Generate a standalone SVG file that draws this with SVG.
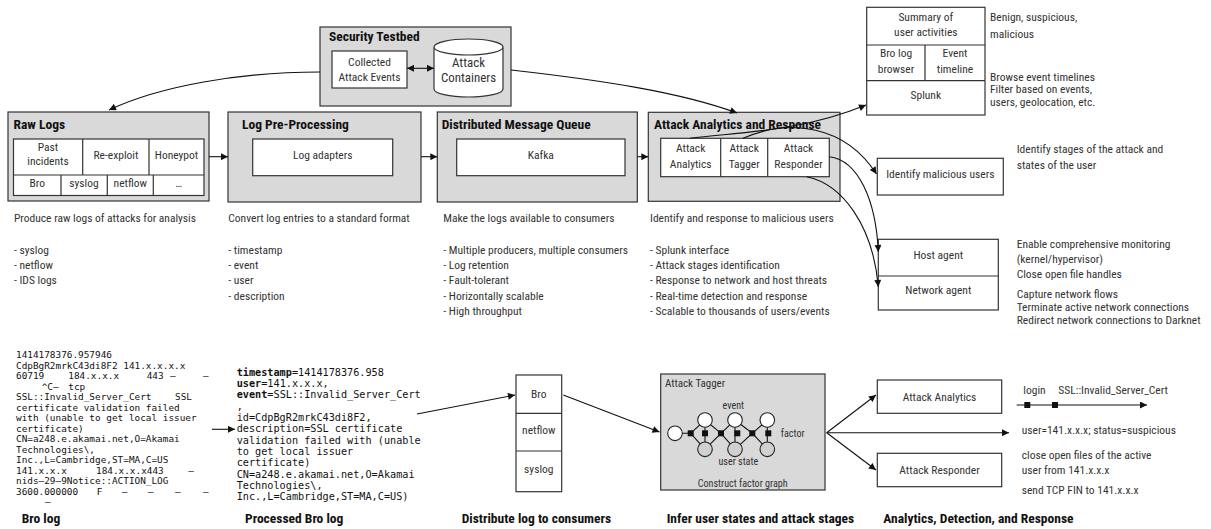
<svg xmlns="http://www.w3.org/2000/svg" width="1211" height="529" viewBox="0 0 1211 529">
  <defs>
    <marker id="arrow" viewBox="0 0 10 10" refX="10" refY="5" markerWidth="9" markerHeight="7" markerUnits="userSpaceOnUse" orient="auto-start-reverse">
      <path d="M0,0 L10,5 L0,10 z" fill="#111"/>
    </marker>
    <style>
      .t { font-family: "Liberation Sans Narrow", "Roboto Condensed", "DejaVu Sans Condensed", "Liberation Sans", sans-serif; font-size: 11.5px; fill: #333; }
      .c { text-anchor: middle; }
      .h { font-family: "Liberation Sans Narrow", "Roboto Condensed", "DejaVu Sans Condensed", "Liberation Sans", sans-serif; font-size: 13.5px; font-weight: bold; fill: #111; }
      .s { font-size: 10.1px; }
      .m { font-family: "DejaVu Sans Mono", "Liberation Mono", monospace; font-size: 9.4px; fill: #111; }
      .m2 { font-family: "DejaVu Sans Mono", "Liberation Mono", monospace; font-size: 10.2px; fill: #111; }
      .m2 tspan.k { font-weight: bold; }
      .panel { fill: #d9d9d9; stroke: #333; stroke-width: 1.2; }
      .box { fill: #fff; stroke: #333; stroke-width: 1.2; }
      .ln { fill: none; stroke: #333; stroke-width: 1.2; }
      .wire { fill: none; stroke: #111; stroke-width: 1.1; }
      .arr { fill: none; stroke: #111; stroke-width: 1.1; marker-end: url(#arrow); }
      .fac { fill: #111; }
      .var { fill: #fff; stroke: #222; stroke-width: 1.1; }
      .obs { fill: #d0d0d0; stroke: #222; stroke-width: 1.1; }
    </style>
  </defs>

  <!-- Security testbed -->
  <g id="security-testbed">
    <rect class="panel" x="320" y="27" width="191" height="79"/>
    <text class="h" x="329" y="41">Security Testbed</text>
    <rect class="box" x="332" y="51" width="75" height="37"/>
    <text class="t c" x="369.5" y="66">Collected</text>
    <text class="t c" x="369.5" y="81">Attack Events</text>
    <path class="box" d="M434,47 L434,89 A34.5,8 0 0 0 503,89 L503,47 A34.5,8 0 0 0 434,47 A34.5,8 0 0 0 503,47"/>
    <text class="t c" x="468.5" y="66.5" style="font-size:12.9px">Attack</text>
    <text class="t c" x="468.5" y="81.5" style="font-size:12.9px">Containers</text>
  </g>

  <!-- Raw logs -->
  <g id="raw-logs">
    <rect class="panel" x="8" y="112" width="201" height="89"/>
    <text class="h" x="13.5" y="129">Raw Logs</text>
    <rect class="box" x="13.5" y="139" width="190.5" height="56.5"/>
    <path class="ln" d="M13.5,175 H204 M82.7,139 V175 M149,139 V175 M61,175 V195.5 M107.3,175 V195.5 M153.3,175 V195.5"/>
    <text class="t c" x="48" y="151">Past</text>
    <text class="t c" x="48" y="164.5">incidents</text>
    <text class="t c" x="115.9" y="158.5">Re-exploit</text>
    <text class="t c" x="176.5" y="158.5">Honeypot</text>
    <text class="t c" x="37.2" y="187.4">Bro</text>
    <text class="t c" x="84" y="187.4">syslog</text>
    <text class="t c" x="130.3" y="187.4">netflow</text>
    <text class="t c" x="178.7" y="187.4">…</text>
  </g>

  <!-- Log pre-processing -->
  <g id="log-preprocessing">
    <rect class="panel" x="228" y="112" width="193" height="90"/>
    <text class="h" x="242" y="128.5">Log Pre-Processing</text>
    <rect class="box" x="252.7" y="139" width="140" height="36.7"/>
    <text class="t c" x="322.7" y="159.4">Log adapters</text>
  </g>

  <!-- Distributed message queue -->
  <g id="message-queue">
    <rect class="panel" x="437.3" y="112" width="200" height="90"/>
    <text class="h" x="441.7" y="128.5">Distributed Message Queue</text>
    <rect class="box" x="456.7" y="139" width="168.3" height="36.7"/>
    <text class="t c" x="540.8" y="159.4">Kafka</text>
  </g>

  <!-- Attack analytics and response -->
  <g id="analytics-response">
    <rect class="panel" x="648.3" y="112.3" width="191.7" height="89"/>
    <text class="h" x="654" y="128.5">Attack Analytics and Response</text>
    <rect class="box" x="660.7" y="138.3" width="168.6" height="38.4"/>
    <path class="ln" d="M720.7,138.3 V176.7 M767.7,138.3 V176.7"/>
    <text class="t c" x="690.7" y="152">Attack</text>
    <text class="t c" x="690.7" y="168.4">Analytics</text>
    <text class="t c" x="744.2" y="152">Attack</text>
    <text class="t c" x="744.2" y="168.4">Tagger</text>
    <text class="t c" x="798.5" y="152">Attack</text>
    <text class="t c" x="798.5" y="168.4">Responder</text>
  </g>

  <!-- Splunk interface -->
  <g id="splunk">
    <rect class="box" x="866.7" y="7.3" width="118.3" height="107.7"/>
    <path class="ln" d="M866.7,45 H985 M866.7,80.7 H985 M925,45 V80.7"/>
    <text class="t c" x="925.8" y="21.1">Summary of</text>
    <text class="t c" x="925.8" y="36.1">user activities</text>
    <text class="t c" x="896" y="57.1">Bro log</text>
    <text class="t c" x="896" y="73.4">browser</text>
    <text class="t c" x="955" y="57.1">Event</text>
    <text class="t c" x="955" y="73.4">timeline</text>
    <text class="t c" x="925.8" y="99.4">Splunk</text>
    <text class="t" x="990" y="21.1">Benign, suspicious,</text>
    <text class="t" x="990" y="37.7">malicious</text>
    <text class="t" x="990" y="80.6">Browse event timelines</text>
    <text class="t" x="990" y="93.4">Filter based on events,</text>
    <text class="t" x="990" y="106.2">users, geolocation, etc.</text>
  </g>

  <!-- Identify malicious users -->
  <g id="identify-users">
    <rect class="box" x="877.3" y="158.3" width="126" height="36.7"/>
    <text class="t c" x="940.3" y="177.7">Identify malicious users</text>
    <text class="t" x="1016.7" y="152.7">Identify stages of the attack and</text>
    <text class="t" x="1016.7" y="169.4">states of the user</text>
  </g>

  <!-- Host and network agents -->
  <g id="agents">
    <rect class="box" x="878.3" y="239.3" width="120" height="70.7"/>
    <path class="ln" d="M878.3,276 H998.3"/>
    <text class="t c" x="938.3" y="259.4">Host agent</text>
    <text class="t c" x="938.3" y="294.4">Network agent</text>
    <text class="t" x="1016.7" y="248.4">Enable comprehensive monitoring</text>
    <text class="t" x="1016.7" y="262.7">(kernel/hypervisor)</text>
    <text class="t" x="1016.7" y="277.7">Close open file handles</text>
    <text class="t" x="1016.7" y="297.7">Capture network flows</text>
    <text class="t" x="1016.7" y="311.1">Terminate active network connections</text>
    <text class="t" x="1016.7" y="324.4">Redirect network connections to Darknet</text>
  </g>

  <!-- Stage descriptions -->
  <g id="stage-notes">
    <text class="t" x="14" y="222.4">Produce raw logs of attacks for analysis</text>
    <text class="t" x="14" y="253.7">- syslog</text>
    <text class="t" x="14" y="269">- netflow</text>
    <text class="t" x="14" y="284.3">- IDS logs</text>

    <text class="t" x="228.3" y="222.4">Convert log entries to a standard format</text>
    <text class="t" x="228.3" y="253.7">- timestamp</text>
    <text class="t" x="228.3" y="269">- event</text>
    <text class="t" x="228.3" y="284.3">- user</text>
    <text class="t" x="228.3" y="299.6">- description</text>

    <text class="t" x="443.3" y="222.4">Make the logs available to consumers</text>
    <text class="t" x="443.3" y="253.7">- Multiple producers, multiple consumers</text>
    <text class="t" x="443.3" y="269">- Log retention</text>
    <text class="t" x="443.3" y="284.3">- Fault-tolerant</text>
    <text class="t" x="443.3" y="299.6">- Horizontally scalable</text>
    <text class="t" x="443.3" y="314.9">- High throughput</text>

    <text class="t" x="650" y="222.4">Identify and response to malicious users</text>
    <text class="t" x="650" y="253.7">- Splunk interface</text>
    <text class="t" x="650" y="269">- Attack stages identification</text>
    <text class="t" x="650" y="284.3">- Response to network and host threats</text>
    <text class="t" x="650" y="299.6">- Real-time detection and response</text>
    <text class="t" x="650" y="314.9">- Scalable to thousands of users/events</text>
  </g>

  <!-- Raw Bro log sample -->
  <g id="bro-log">
    <text class="m" x="16" y="358.3">1414178376.957946</text>
    <text class="m" x="16" y="368.8">CdpBgR2mrkC43di8F2 141.x.x.x.x</text>
    <text class="m" y="379.3"><tspan x="16">60719</tspan><tspan x="68.3">184.x.x.x</tspan><tspan x="146.7">443</tspan><tspan x="170">–</tspan><tspan x="203">–</tspan></text>
    <text class="m" y="389.8"><tspan x="41.7">^C–</tspan><tspan x="68.3">tcp</tspan></text>
    <text class="m" y="400.3"><tspan x="16">SSL::Invalid_Server_Cert</tspan><tspan x="175">SSL</tspan></text>
    <text class="m" x="16" y="410.7">certificate validation failed</text>
    <text class="m" x="16" y="421.2">with (unable to get local issuer</text>
    <text class="m" x="16" y="431.7">certificate)</text>
    <text class="m" x="16" y="442.2">CN=a248.e.akamai.net,O=Akamai</text>
    <text class="m" x="16" y="452.6">Technologies\,</text>
    <text class="m" x="16" y="463.1">Inc.,L=Cambridge,ST=MA,C=US</text>
    <text class="m" y="473.6"><tspan x="16">141.x.x.x</tspan><tspan x="96">184.x.x.x443</tspan><tspan x="188.3">–</tspan></text>
    <text class="m" x="16" y="484.1">nids–29–9Notice::ACTION_LOG</text>
    <text class="m" y="494.5"><tspan x="16">3600.000000</tspan><tspan x="96.7">F</tspan><tspan x="121.7">–</tspan><tspan x="148">–</tspan><tspan x="175">–</tspan><tspan x="203">–</tspan></text>
    <text class="m" x="45" y="505">–</text>
    <text class="h" x="21.7" y="523.2">Bro log</text>
  </g>

  <!-- Processed Bro log sample -->
  <g id="processed-log">
    <text class="m2" x="236.7" y="375.6"><tspan class="k">timestamp</tspan>=1414178376.958</text>
    <text class="m2" x="236.7" y="386.9"><tspan class="k">user</tspan>=141.x.x.x,</text>
    <text class="m2" x="236.7" y="398.3"><tspan class="k">event</tspan>=SSL::Invalid_Server_Cert</text>
    <text class="m2" x="236.7" y="409.6">,</text>
    <text class="m2" x="236.7" y="421">id=CdpBgR2mrkC43di8F2,</text>
    <text class="m2" x="236.7" y="432.3">description=SSL certificate</text>
    <text class="m2" x="236.7" y="443.6">validation failed with (unable</text>
    <text class="m2" x="236.7" y="455">to get local issuer</text>
    <text class="m2" x="236.7" y="466.3">certificate)</text>
    <text class="m2" x="236.7" y="477.7">CN=a248.e.akamai.net,O=Akamai</text>
    <text class="m2" x="236.7" y="489">Technologies\,</text>
    <text class="m2" x="236.7" y="500.3">Inc.,L=Cambridge,ST=MA,C=US)</text>
    <text class="h" x="245" y="523.2">Processed Bro log</text>
  </g>

  <!-- Log consumers -->
  <g id="log-consumers">
    <rect class="box" x="516" y="375" width="45.7" height="116.7"/>
    <path class="ln" d="M516,413.3 H561.7 M516,451 H561.7"/>
    <text class="t c" x="538.8" y="398.4">Bro</text>
    <text class="t c" x="538.8" y="433.7">netflow</text>
    <text class="t c" x="538.8" y="472.7">syslog</text>
    <text class="h" x="461.7" y="523.2">Distribute log to consumers</text>
  </g>

  <!-- Attack tagger factor graph -->
  <g id="attack-tagger">
    <rect class="panel" x="660.7" y="374" width="164.3" height="116"/>
    <text class="t" x="665" y="386.5" style="font-size:11px">Attack Tagger</text>
    <path class="wire" d="M682,433.3 H690.7 L705,420 L721,433.3 L735,420 L752.3,433.3 L767.3,420 M690.7,433.3 L705,449.3 L721,433.3 L735,449.3 L752.3,433.3 L767.3,449.3 M705,420 V449.3 M735,420 V449.3 M767.3,420 V449.3"/>
    <circle class="var" cx="675" cy="433.3" r="7.3"/>
    <circle class="var" cx="705" cy="420" r="7.3"/>
    <circle class="obs" cx="705" cy="449.3" r="7.3"/>
    <circle class="var" cx="735" cy="420" r="7.3"/>
    <circle class="obs" cx="735" cy="449.3" r="7.3"/>
    <circle class="var" cx="767.3" cy="420" r="7.3"/>
    <circle class="obs" cx="767.3" cy="449.3" r="7.3"/>
    <rect class="fac" x="687.7" y="430.3" width="6" height="6"/>
    <rect class="fac" x="702" y="430.3" width="6" height="6"/>
    <rect class="fac" x="718" y="430.3" width="6" height="6"/>
    <rect class="fac" x="734.3" y="430.3" width="6" height="6"/>
    <rect class="fac" x="749.3" y="430.3" width="6" height="6"/>
    <rect class="fac" x="765.3" y="430.3" width="6" height="6"/>
    <text class="t c s" x="733.3" y="409">event</text>
    <text class="t c s" x="792.7" y="437">factor</text>
    <text class="t c s" x="738.3" y="464.5">user state</text>
    <text class="t c s" x="742.7" y="487">Construct factor graph</text>
    <text class="h" x="666.7" y="523.2">Infer user states and attack stages</text>
  </g>

  <!-- Detection and response outputs -->
  <g id="outputs">
    <rect class="box" x="877.3" y="380" width="124.4" height="33.3"/>
    <text class="t c" x="939.5" y="401">Attack Analytics</text>
    <rect class="box" x="877.3" y="453.3" width="124.4" height="33.4"/>
    <text class="t c" x="939.5" y="474.4">Attack Responder</text>
    <text class="t" x="1023.3" y="394.4">login</text>
    <text class="t" x="1058.3" y="394.4">SSL::Invalid_Server_Cert</text>
    <path class="arr" d="M1016.7,405 H1147"/>
    <rect class="fac" x="1024.3" y="402" width="6" height="6"/>
    <rect class="fac" x="1052" y="402" width="6" height="6"/>
    <text class="t" x="1021.7" y="434.4">user=141.x.x.x; status=suspicious</text>
    <text class="t" x="1021.7" y="459.4">close open files of the active</text>
    <text class="t" x="1021.7" y="474.4">user from 141.x.x.x</text>
    <text class="t" x="1021.7" y="494.4">send TCP FIN to 141.x.x.x</text>
    <text class="h" x="883.3" y="523.2">Analytics, Detection, and Response</text>
  </g>

  <!-- Connectors -->
  <g id="connectors">
    <path class="wire" d="M407,68.3 H434" marker-start="url(#arrow)" marker-end="url(#arrow)"/>
    <path class="arr" d="M320,72 C240,72 160,86 109,110"/>
    <path class="arr" d="M511,70 C600,80 680,92 737,113"/>
    <path class="arr" d="M209,156.7 H228"/>
    <path class="arr" d="M421,156.7 H437.3"/>
    <path class="arr" d="M637.3,156.7 H648.3"/>
    <path class="arr" d="M690,138.3 C740,132 800,132 866,105"/>
    <path class="arr" d="M743,138.3 C790,118 845,125 876.5,174"/>
    <path class="arr" d="M829.3,156.7 C858,160 876,200 878.3,252"/>
    <path class="arr" d="M806.7,176.7 C842,184 873,225 878.3,287"/>
    <path class="arr" d="M212,429.3 H235"/>
    <path class="arr" d="M417,414 L515,395"/>
    <path class="arr" d="M563.3,395 L659.5,432"/>
    <path class="arr" d="M826.7,432.7 L876,395"/>
    <path class="arr" d="M826.7,432.7 H1009"/>
    <path class="arr" d="M826.7,432.7 L876,470"/>
  </g>
</svg>
